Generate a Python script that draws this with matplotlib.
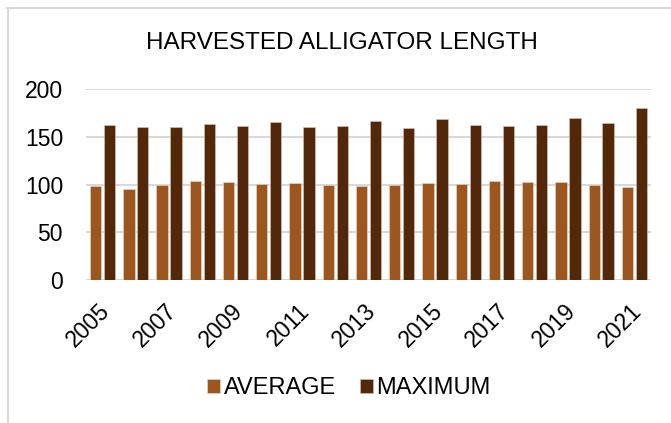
import numpy as np
import matplotlib
matplotlib.use("Agg")
import matplotlib.pyplot as plt
from matplotlib.lines import Line2D
from matplotlib.transforms import ScaledTranslation

years = list(range(2005, 2022))
average = [98, 95, 100, 104, 103, 101, 102, 99, 98, 100, 102, 101, 104, 103, 103, 100, 97]
maximum = [162, 160, 160, 163, 161, 165, 160, 161, 167, 159, 169, 162, 161, 162, 170, 164, 180]
yticks = [0, 50, 100, 150, 200]

C_AVG = "#9E561F"
C_MAX = "#532709"
GRID = "#D9D9D9"

plt.rcParams["font.family"] = ["Liberation Sans", "DejaVu Sans"]

fig = plt.figure(figsize=(6.71, 4.23), dpi=100)
ax = fig.add_axes([86/671, 1 - 280/423, (651-86)/671, (280-89)/423])

x = np.arange(len(years))
w = 0.34
ax.bar(x - 0.21, average, w, color=C_AVG, edgecolor="#E9DCCF", lw=0.4, label="AVERAGE", zorder=3)
ax.bar(x + 0.21, maximum, w, color=C_MAX, edgecolor="#D9C8B8", lw=0.4, label="MAXIMUM", zorder=3)

ax.set_xlim(-0.5, len(years) - 0.5)
ax.set_ylim(0, 200)
ax.set_yticks(yticks)
ax.yaxis.grid(True, color=GRID, lw=1.5, zorder=0)
ax.set_axisbelow(True)
for s in ax.spines.values():
    s.set_visible(False)
ax.tick_params(axis="both", length=0, labelsize=16.5)
ax.tick_params(axis="y", pad=16.5)

ax.set_xticks(x[::2])
ax.set_xticklabels([str(y) for y in years[::2]], rotation=45, ha="right",
                   va="top", rotation_mode="anchor")
ax.tick_params(axis="x", pad=14)
shift = ScaledTranslation(-4/100, 0, fig.dpi_scale_trans)
for lbl in ax.get_xticklabels():
    lbl.set_transform(lbl.get_transform() + shift)

fig.text(0.51, 1 - 43/423, "HARVESTED ALLIGATOR LENGTH", ha="center", va="center",
         fontsize=17.5)

fig.legend(loc="center", bbox_to_anchor=(0.52, 1 - 388/423), ncol=2, frameon=False,
           fontsize=17, handlelength=0.55, handleheight=0.55, handletextpad=0.15,
           columnspacing=1.0)

# outer chart border (cut off at right and bottom)
fig.add_artist(Line2D([7.5/671, 7.5/671], [0, 1 - 8/423], transform=fig.transFigure,
                      color=GRID, lw=1.5))
fig.add_artist(Line2D([7/671, 1], [1 - 8/423, 1 - 8/423], transform=fig.transFigure,
                      color=GRID, lw=1.5))

fig.savefig("out.png", dpi=100)
